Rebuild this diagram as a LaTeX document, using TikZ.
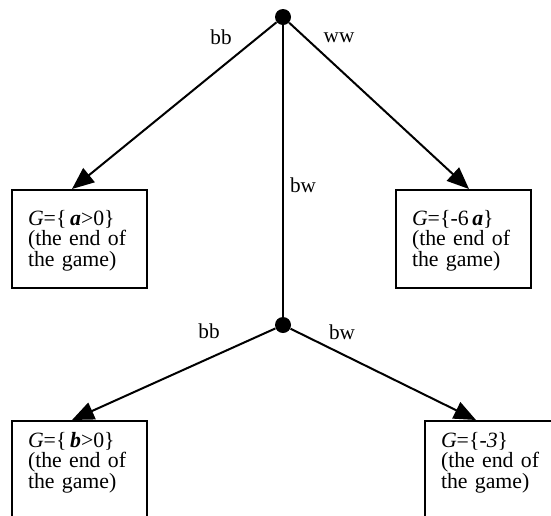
\documentclass[tikz,border=0pt]{standalone}
\usepackage{fontspec}
\setmainfont{Liberation Serif}
\usetikzlibrary{arrows.meta, positioning, calc}

\tikzset{
  move/.style={line width=1pt, -{Triangle[length=11pt,width=9pt]}},
  stem/.style={line width=1pt},
  choice/.style={circle, fill, inner sep=0pt, minimum size=8pt},
  endbox/.style={draw, line width=1pt, anchor=north, align=left, text width=51.5pt,
    inner xsep=8pt, inner ysep=0pt, font=\fontsize{10.9}{10.3}\selectfont},
  lbl/.style={font=\fontsize{10.6}{12}\selectfont}
}
\newcommand{\gsym}[1]{{\bfseries\itshape #1}}

\begin{document}
\begin{tikzpicture}[x=0.5pt, y=-0.5pt]
  \useasboundingbox (0,0) rectangle (551,515);
  \clip (0,0) rectangle (551,515);

  % choice points
  \node[choice] (root) at (283,17) {};
  \node[choice] (mid) at (283,325) {};

  % end positions
  \node[endbox, text height=17.5pt, text depth=31.5pt] (ga) at (79.5,189)
    {\textit{G}=\{\,\gsym{a}>0\}\\(the end of\\the game)};
  \node[endbox, text height=17.5pt, text depth=31.5pt] (gb) at (463.5,189)
    {\textit{G}=\{-6\,\gsym{a}\}\\(the end of\\the game)};
  \node[endbox, text height=13pt, text depth=60pt] (gc) at (79.5,420)
    {\textit{G}=\{\,\gsym{b}>0\}\\(the end of\\the game)};
  \node[endbox, text height=13pt, text depth=60pt] (gd) at (492.5,420)
    {\textit{G}=\{\textit{-3}\}\\(the end of\\the game)};

  % moves
  \draw[move] (root) -- ([xshift=-3.75pt]ga.north);
  \draw[move] (root) -- ([xshift=2.75pt]gb.north);
  \draw[stem] (root) -- (mid);
  \draw[move] (mid) -- ([xshift=-3.75pt]gc.north);
  \draw[move] (mid) -- ([xshift=-8.25pt]gd.north);

  % move labels
  \node[lbl] (bb1) at (221,37) {bb};
  \node[lbl] (ww1) at (339,38) {ww};
  \node[lbl] (bw1) at (303,185) {bw};
  \node[lbl] (bb2) at (209,331) {bb};
  \node[lbl] (bw2) at (342,332) {bw};
\end{tikzpicture}
\end{document}
